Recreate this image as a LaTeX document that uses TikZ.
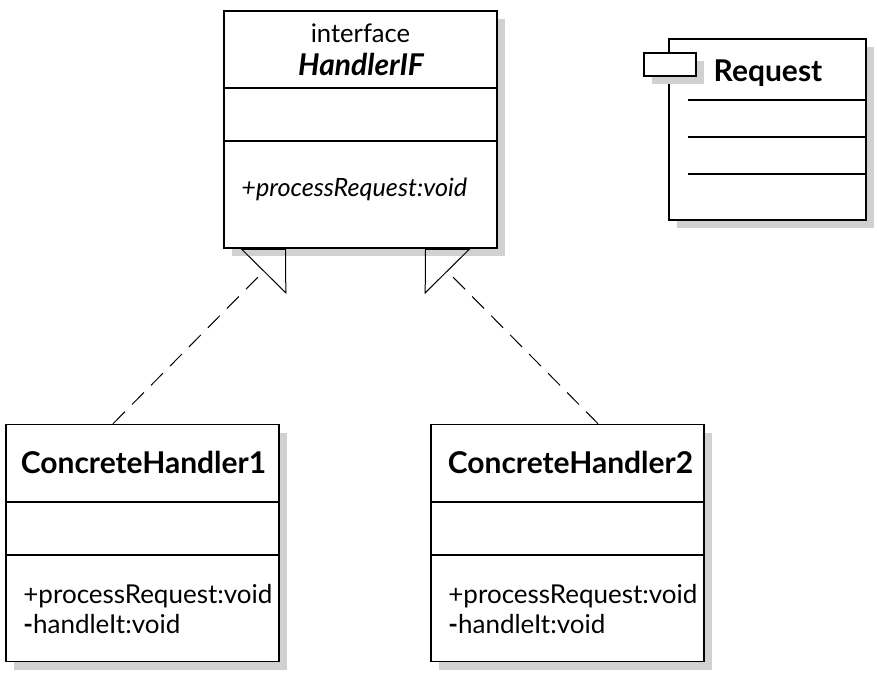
\documentclass[tikz,border=0pt]{standalone}
\usepackage{fontspec}
\setmainfont{Lato}
\usetikzlibrary{arrows.meta,shadows}

\begin{document}
\begin{tikzpicture}[x=0.5pt,y=-0.5pt]
\tikzstyle{cls}=[draw, line width=0.75pt, fill=white, inner sep=0pt,
                 minimum width=136.5pt, minimum height=118.5pt,
                 drop shadow={shadow xshift=4pt, shadow yshift=-4pt, fill=black!18, opacity=1}]
\tikzstyle{ttl}=[anchor=base, inner sep=0pt, font=\bfseries\fontsize{15}{17}\selectfont]
\tikzstyle{mth}=[anchor=base west, inner sep=0pt, font=\fontsize{13}{15}\selectfont]
\tikzstyle{impl}=[line width=0.5pt, dash pattern=on 8.5pt off 5pt,
                  -{Triangle[open, length=16pt, width=32pt, line width=0.5pt]}]
\useasboundingbox (0,0) rectangle (877,673);

	\node[cls] (hif) at (360.5,129.5){};
	\node[cls] (ch1) at (142.5,543){};
	\node[cls] (ch2) at (567.5,543){};
	\node[cls, minimum width=98.5pt, minimum height=90.5pt] (req) at (767.5,129.5){};
	\node[cls, minimum width=26pt, minimum height=11.5pt] (tab) at (670,64.5){};

\foreach \c in {hif,ch1,ch2}{
	\draw[line width=0.75pt] ([yshift=-39pt]\c.north west) -- ([yshift=-39pt]\c.north east);
	\draw[line width=0.75pt] ([yshift=-65.5pt]\c.north west) -- ([yshift=-65.5pt]\c.north east);}
\foreach \d in {31,49.5,68}{\draw[line width=0.75pt] ([xshift=10pt,yshift=-\d pt]req.north west) -- ([yshift=-\d pt]req.north east);}

	\node[anchor=base, inner sep=0pt, font=\fontsize{12.8}{15}\selectfont] (hifst) at (360.5,43){interface};
	\node[ttl, font=\bfseries\itshape\fontsize{15}{17}\selectfont] (hifnm) at (361,76){HandlerIF};
	\node[mth, font=\itshape\fontsize{12.6}{15}\selectfont] (hifm) at (241,197){+processRequest:void};
	\node[ttl] (reqnm) at (768,82){Request};

	\node[ttl] (ch1nm) at (143.5,473){ConcreteHandler1};
	\node[mth] (ch1m1) at (23,603){+processRequest:void};
	\node[mth] (ch1m2) at (23,633){\textbf{-}handleIt:void};
	\node[ttl] (ch2nm) at (570.5,473){ConcreteHandler2};
	\node[mth] (ch2m1) at (448,603){+processRequest:void};
	\node[mth] (ch2m2) at (448,633){\textbf{-}handleIt:void};

\foreach \i/\a/\j/\b in {ch1/-14.75/hif/-37.25,ch2/15.25/hif/32.25}{\draw[impl] ([xshift=\a pt]\i.north) -- ([xshift=\b pt]\j.south);}

\end{tikzpicture}
\end{document}
